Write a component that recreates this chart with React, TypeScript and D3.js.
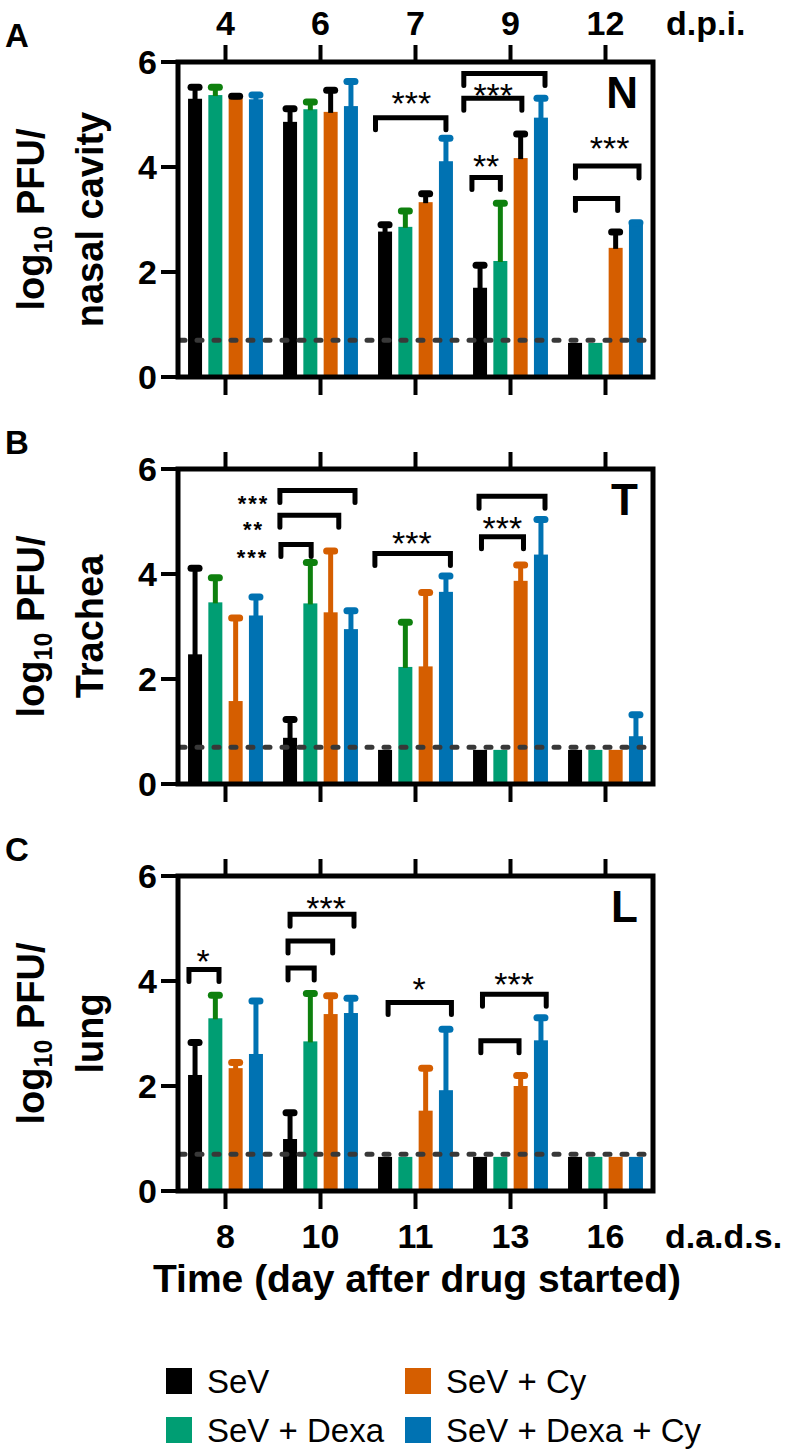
import React from "react";
import * as d3 from "d3";

// ---------- data ----------
const dpiLabels = ["4", "6", "7", "9", "12"];
const dadsLabels = ["8", "10", "11", "13", "16"];
const seriesNames = ["SeV", "SeV + Dexa", "SeV + Cy", "SeV + Dexa + Cy"];
const barColors = ["#000000", "#009E73", "#D55E00", "#0072B2"];
const detectionLimit = 0.7;
const yTicks = [0, 2, 4, 6];

// Panel A — nasal cavity (mean, mean+SD) per day group, per series
const nasalMean = [
  [5.3, 5.37, 5.31, 5.29],
  [4.86, 5.1, 5.05, 5.16],
  [2.77, 2.86, 3.33, 4.11],
  [1.7, 2.21, 4.17, 4.94],
  [0.65, 0.65, 2.46, 2.92],
];
const nasalUpper = [
  [5.52, 5.52, 5.35, 5.37],
  [5.11, 5.24, 5.46, 5.63],
  [2.9, 3.16, 3.49, 4.55],
  [2.13, 3.31, 4.63, 5.31],
  [null, null, 2.76, 2.94],
];
const nasalErrColors = ["#000000", "#0e800e", "#000000", "#0072B2"];

// Panel B — trachea
const tracheaMean = [
  [2.47, 3.46, 1.58, 3.21],
  [0.88, 3.44, 3.27, 2.95],
  [0.65, 2.23, 2.24, 3.66],
  [0.65, 0.65, 3.87, 4.37],
  [0.65, 0.65, 0.65, 0.91],
];
const tracheaUpper = [
  [4.11, 3.93, 3.16, 3.56],
  [1.23, 4.22, 4.44, 3.3],
  [null, 3.08, 3.65, 3.96],
  [null, null, 4.17, 5.04],
  [null, null, null, 1.32],
];

// Panel C — lung
const lungMean = [
  [2.21, 3.29, 2.34, 2.61],
  [0.99, 2.85, 3.37, 3.39],
  [0.65, 0.65, 1.53, 1.92],
  [0.65, 0.65, 2.0, 2.87],
  [0.65, 0.65, 0.65, 0.65],
];
const lungUpper = [
  [2.83, 3.73, 2.45, 3.62],
  [1.49, 3.76, 3.72, 3.67],
  [null, null, 2.34, 3.08],
  [null, null, 2.2, 3.3],
  [null, null, null, null],
];
const otherErrColors = ["#000000", "#0e800e", "#D55E00", "#0072B2"];

// significance brackets: group, left/right (in bar-step units from group centre), height (log10)
type Bracket = { g: number; x1: number; x2: number; y: number };
// star labels: one text per entry, possibly several stacked lines; size = font size
type Star = { g: number; x: number; y: number[]; t: string[]; size?: number };

const nasalBrackets: Bracket[] = [
  { g: 2, x1: -1.97, x2: 1.5, y: 4.94 },
  { g: 3, x1: -2.3, x2: 1.7, y: 5.78 },
  { g: 3, x1: -2.3, x2: 0.56, y: 5.31 },
  { g: 3, x1: -1.9, x2: -0.5, y: 3.8 },
  { g: 4, x1: -1.48, x2: 1.65, y: 4.02 },
  { g: 4, x1: -1.48, x2: 0.6, y: 3.4 },
];
const nasalStars: Star[] = [
  { g: 2, x: -0.2, y: [5.38], t: ["***"] },
  { g: 3, x: -0.85, y: [5.52], t: ["***"] },
  { g: 3, x: -1.2, y: [4.18], t: ["**"] },
  { g: 4, x: 0.2, y: [4.51], t: ["***"] },
];

const tracheaBrackets: Bracket[] = [
  { g: 1, x1: -2.0, x2: 1.7, y: 5.59 },
  { g: 1, x1: -2.0, x2: 0.9, y: 5.12 },
  { g: 1, x1: -1.95, x2: -0.46, y: 4.56 },
  { g: 2, x1: -2.0, x2: 1.72, y: 4.39 },
  { g: 3, x1: -1.55, x2: 1.7, y: 5.48 },
  { g: 3, x1: -1.43, x2: 0.64, y: 4.71 },
];
const tracheaStars: Star[] = [
  { g: 1, x: -3.3, y: [5.44], t: ["***"], size: 22 },
  { g: 1, x: -3.3, y: [4.95], t: ["**"], size: 22 },
  { g: 1, x: -3.35, y: [4.42], t: ["***"], size: 22 },
  { g: 2, x: -0.18, y: [4.74], t: ["***"] },
  { g: 3, x: -0.4, y: [5.03], t: ["***"] },
];

const lungBrackets: Bracket[] = [
  { g: 0, x1: -1.8, x2: -0.32, y: 4.22 },
  { g: 1, x1: -1.5, x2: 1.65, y: 5.27 },
  { g: 1, x1: -1.6, x2: 0.6, y: 4.76 },
  { g: 1, x1: -1.6, x2: -0.31, y: 4.25 },
  { g: 2, x1: -1.35, x2: 1.77, y: 3.59 },
  { g: 3, x1: -1.38, x2: 1.76, y: 3.75 },
  { g: 3, x1: -1.46, x2: 0.42, y: 2.86 },
];
const lungStars: Star[] = [
  { g: 0, x: -1.1, y: [4.54], t: ["*"] },
  { g: 1, x: 0.28, y: [5.55], t: ["***"] },
  { g: 2, x: 0.18, y: [4.0], t: ["*"] },
  { g: 3, x: 0.18, y: [4.09], t: ["***"] },
];

// ---------- layout ----------
const W = 800;
const H = 1453;
const FRAME_L = 178;
const FRAME_R = 653;
const PANEL_H = 315;
const FONT = "'Liberation Sans', Arial, Helvetica, sans-serif";

const xGroup = d3.scaleBand<number>().domain(d3.range(5)).range([FRAME_L, FRAME_R]);
const xInner = d3
  .scaleBand<string>()
  .domain(seriesNames)
  .range([-40.6, 40.6])
  .paddingInner(0.31)
  .paddingOuter(0.155);
const gCenter = (g: number) => (xGroup(g) as number) + xGroup.bandwidth() / 2;
const step = xInner.step();

type PanelProps = {
  top: number;
  means: number[][];
  uppers: (number | null)[][];
  errColors: string[];
  brackets: Bracket[];
  stars: Star[];
  title2: string;
  letter: string;
  tag: string;
  topLabels?: string[];
  topUnit?: string;
  bottomLabels?: string[];
  bottomUnit?: string;
};

function Panel(p: PanelProps) {
  const y = d3.scaleLinear().domain([0, 6]).range([p.top + PANEL_H, p.top]);
  const bottom = p.top + PANEL_H;
  const cy = p.top + PANEL_H / 2;
  const bw = xInner.bandwidth();
  return (
    <g>
      {/* bars */}
      {p.means.map((row, g) =>
        row.map((v, s) => {
          const x = gCenter(g) + (xInner(seriesNames[s]) as number);
          return (
            <rect
              key={`b${g}-${s}`}
              x={x}
              y={y(v)}
              width={bw}
              height={bottom - y(v)}
              fill={barColors[s]}
            />
          );
        })
      )}
      {/* error bars */}
      {p.uppers.map((row, g) =>
        row.map((u, s) => {
          if (u === null) return null;
          const cx = gCenter(g) + (xInner(seriesNames[s]) as number) + bw / 2;
          const v = p.means[g][s];
          return (
            <g key={`e${g}-${s}`} stroke={p.errColors[s]}>
              <line x1={cx} x2={cx} y1={y(v) + 1} y2={y(u)} strokeWidth={5} />
              <line x1={cx - 4} x2={cx + 4} y1={y(u)} y2={y(u)} strokeWidth={7} strokeLinecap="round" />
            </g>
          );
        })
      )}
      {/* detection limit */}
      <line
        x1={FRAME_L + 2}
        x2={FRAME_R}
        y1={y(detectionLimit)}
        y2={y(detectionLimit)}
        stroke="#383838"
        strokeWidth={5}
        strokeDasharray="5 12"
        strokeLinecap="round"
      />
      {/* frame */}
      <rect
        x={FRAME_L}
        y={p.top}
        width={FRAME_R - FRAME_L}
        height={PANEL_H}
        fill="none"
        stroke="#000"
        strokeWidth={5}
      />
      {/* y ticks */}
      {yTicks.map((t) => (
        <g key={`yt${t}`}>
          <line x1={FRAME_L - 17} x2={FRAME_L} y1={y(t)} y2={y(t)} stroke="#000" strokeWidth={4} />
          <text
            x={FRAME_L - 21}
            y={y(t) + 12}
            textAnchor="end"
            fontSize={34}
            fontWeight="bold"
            fontFamily={FONT}
          >
            {t}
          </text>
        </g>
      ))}
      {/* group ticks top and bottom */}
      {d3.range(5).map((g) => (
        <g key={`gt${g}`} stroke="#000" strokeWidth={4}>
          <line x1={gCenter(g)} x2={gCenter(g)} y1={p.top} y2={p.top - 17} />
          <line x1={gCenter(g)} x2={gCenter(g)} y1={bottom} y2={bottom + 18} />
        </g>
      ))}
      {p.topLabels &&
        p.topLabels.map((l, g) => (
          <text
            key={`tl${g}`}
            x={gCenter(g)}
            y={p.top - 27}
            textAnchor="middle"
            fontSize={34}
            fontWeight="bold"
            fontFamily={FONT}
          >
            {l}
          </text>
        ))}
      {p.topUnit && (
        <text x={666} y={p.top - 27} fontSize={34} fontWeight="bold" fontFamily={FONT}>
          {p.topUnit}
        </text>
      )}
      {p.bottomLabels &&
        p.bottomLabels.map((l, g) => (
          <text
            key={`bl${g}`}
            x={gCenter(g)}
            y={bottom + 57}
            textAnchor="middle"
            fontSize={34}
            fontWeight="bold"
            fontFamily={FONT}
          >
            {l}
          </text>
        ))}
      {p.bottomUnit && (
        <text x={665} y={bottom + 57} fontSize={34} fontWeight="bold" fontFamily={FONT}>
          {p.bottomUnit}
        </text>
      )}
      {/* brackets */}
      {p.brackets.map((b, i) => {
        const x1 = gCenter(b.g) + b.x1 * step;
        const x2 = gCenter(b.g) + b.x2 * step;
        const yy = y(b.y);
        return (
          <path
            key={`br${i}`}
            d={`M${x1},${yy + 12}L${x1},${yy}L${x2},${yy}L${x2},${yy + 12}`}
            fill="none"
            stroke="#000"
            strokeWidth={5}
            strokeLinecap="round"
          />
        );
      })}
      {p.stars.map((s, i) => {
        const sx = gCenter(s.g) + s.x * step;
        const fs = s.size ?? 34;
        return (
          <text
            key={`st${i}`}
            textAnchor="middle"
            fontSize={fs}
            fontWeight={fs < 30 ? "bold" : "normal"}
            letterSpacing={fs < 30 ? 2 : 0}
            fontFamily={FONT}
          >
            {s.t.map((line, j) => (
              <tspan key={j} x={sx} y={y(s.y[j]) + fs * 0.59}>
                {line}
              </tspan>
            ))}
          </text>
        );
      })}
      {/* tissue tag */}
      <text x={638} y={p.top + 46} textAnchor="end" fontSize={44} fontWeight="bold" fontFamily={FONT}>
        {p.tag}
      </text>
      {/* panel letter */}
      <text x={5} y={p.top - 15} fontSize={33} fontWeight="bold" fontFamily={FONT}>
        {p.letter}
      </text>
      {/* y title */}
      <g transform={`translate(44,${cy}) rotate(-90)`}>
        <text textAnchor="middle" fontSize={38} fontWeight="bold" fontFamily={FONT}>
          log
          <tspan fontSize={25} dy={8}>
            10
          </tspan>
          <tspan dy={-8}> PFU/</tspan>
        </text>
      </g>
      <g transform={`translate(103,${cy}) rotate(-90)`}>
        <text textAnchor="middle" fontSize={38} fontWeight="bold" fontFamily={FONT}>
          {p.title2}
        </text>
      </g>
    </g>
  );
}

export default function App() {
  const legendX = [166, 405];
  const legendY = [1368, 1417];
  return (
    <svg
      width={W}
      height={H}
      viewBox={`0 0 ${W} ${H}`}
      style={{ position: "absolute", left: 0, top: 0, background: "#fff" }}
    >
      <rect width={W} height={H} fill="#fff" />
      <Panel
        top={62}
        means={nasalMean}
        uppers={nasalUpper}
        errColors={nasalErrColors}
        brackets={nasalBrackets}
        stars={nasalStars}
        title2="nasal cavity"
        letter="A"
        tag="N"
        topLabels={dpiLabels}
        topUnit="d.p.i."
      />
      <Panel
        top={469}
        means={tracheaMean}
        uppers={tracheaUpper}
        errColors={otherErrColors}
        brackets={tracheaBrackets}
        stars={tracheaStars}
        title2="Trachea"
        letter="B"
        tag="T"
      />
      <Panel
        top={876}
        means={lungMean}
        uppers={lungUpper}
        errColors={otherErrColors}
        brackets={lungBrackets}
        stars={lungStars}
        title2="lung"
        letter="C"
        tag="L"
        bottomLabels={dadsLabels}
        bottomUnit="d.a.d.s."
      />
      <text x={417} y={1292} textAnchor="middle" fontSize={39} fontWeight="bold" fontFamily={FONT}>
        Time (day after drug started)
      </text>
      {seriesNames.map((n, i) => {
        const col = i < 2 ? 0 : 1;
        const row = i % 2;
        return (
          <g key={n}>
            <rect x={legendX[col]} y={legendY[row]} width={26} height={26} fill={barColors[i]} />
            <text
              x={legendX[col] + 41}
              y={legendY[row] + 25}
              fontSize={33}
              fontFamily={FONT}
            >
              {n}
            </text>
          </g>
        );
      })}
    </svg>
  );
}
